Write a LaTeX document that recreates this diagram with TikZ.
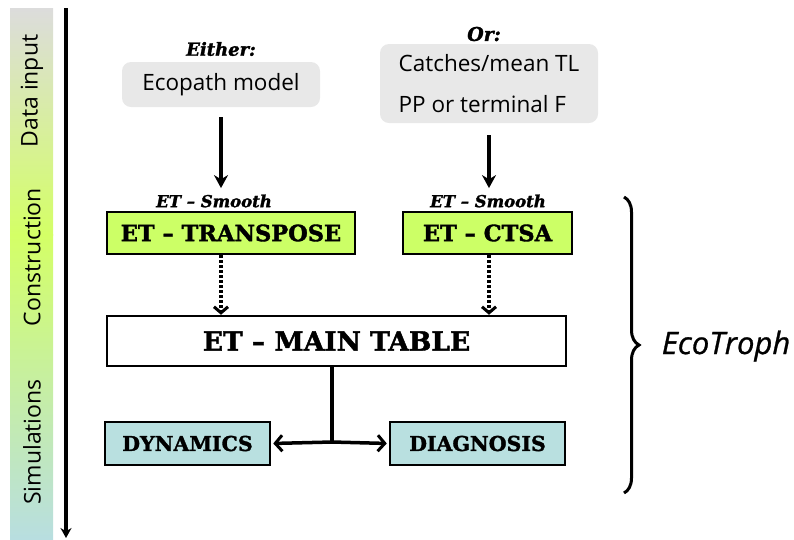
\documentclass[tikz,border=0pt]{standalone}
\usepackage{fontspec}
\setmainfont{DejaVu Serif}[BoldFeatures={FakeBold=1.6}, BoldItalicFeatures={FakeBold=1.6}]
\setsansfont{Open Sans}
\newfontfamily\brandfont{Open Sans}[ItalicFeatures={FakeBold=0.9}]
\usetikzlibrary{arrows.meta,decorations.pathreplacing}

\definecolor{inputgray}{HTML}{E8E8E8}
\definecolor{buildgreen}{HTML}{CCFF66}
\definecolor{simteal}{HTML}{B9E0E0}
\definecolor{bartop}{HTML}{DCDCDC}
\definecolor{barmid}{HTML}{D4FF66}
\definecolor{barbot}{HTML}{B8DEE0}

\tikzset{
	inputbox/.style={fill=inputgray, rounded corners=9pt, font=\sffamily\fontsize{22.5}{41}\selectfont},
	stagebox/.style={draw=black, line width=2.5pt, font=\bfseries\fontsize{22.5}{26}\selectfont, inner sep=0pt},
	smalllabel/.style={font=\bfseries\itshape\fontsize{16.5}{19}\selectfont},
	phaselabel/.style={rotate=90, font=\sffamily\fontsize{23}{26}\selectfont},
	flow/.style={line width=3.5pt, -{Stealth[length=13pt,width=14pt]}},
	dotflow/.style={line width=4pt, dash pattern=on 3pt off 2pt, -{Straight Barb[length=6pt,width=14pt,line width=3pt]}},
	split/.style={line width=3.5pt, -{Straight Barb[length=7pt,width=16pt,line width=3pt]}}
}

\begin{document}
\begin{tikzpicture}[x=1pt,y=-1pt]
	\useasboundingbox (0,0) rectangle (794,539);

	% phase bar on the left
	\shade[top color=bartop, bottom color=barmid] (10,8) rectangle (53,235);
	\shade[top color=barmid, bottom color=barbot] (10,234) rectangle (53,539);
	\node[phaselabel] (datainput)    at (32,91)  {Data input};
	\node[phaselabel] (construction) at (32,257) {Construction};
	\node[phaselabel] (simulations)  at (32,442) {Simulations};

	\coordinate (timetop) at (66,8);
	\coordinate (timebot) at (66,538);
	\draw[line width=3.5pt, -{Stealth[length=10pt,width=11pt]}] (timetop) -- (timebot);

	% data input
	\node[smalllabel, font=\bfseries\itshape\fontsize{18}{20}\selectfont] (either) at (221,49) {Either:};
	\node[inputbox, minimum width=198pt, minimum height=45pt] (ecopath) at (221,84.5) {Ecopath model};
	\node[smalllabel, font=\bfseries\itshape\fontsize{19}{20}\selectfont] (or) at (484,34) {Or:};
	\node[inputbox, minimum width=218pt, minimum height=79pt, align=left] (catches) at (489,83.5)
		{Catches/mean TL\\PP or terminal F};

	% construction
	\node[smalllabel] (smoothL) at (214,201) {ET -- Smooth};
	\node[smalllabel] (smoothR) at (488,201) {ET -- Smooth};
	\node[stagebox, fill=buildgreen, minimum width=248pt, minimum height=42pt] (transpose) at (231,233) {ET -- TRANSPOSE};
	\node[stagebox, fill=buildgreen, minimum width=169pt, minimum height=42pt] (ctsa) at (487.5,233) {ET -- CTSA};
	\node[stagebox, fill=white, minimum width=459pt, minimum height=50pt, font=\bfseries\fontsize{26.5}{30}\selectfont] (maintable) at (336.5,341) {ET -- MAIN TABLE};

	% simulations
	\node[stagebox, fill=simteal, minimum width=165pt, minimum height=43pt, font=\bfseries\fontsize{20.5}{24}\selectfont] (dynamics) at (187.5,443.5) {DYNAMICS};
	\node[stagebox, fill=simteal, minimum width=175pt, minimum height=43pt, font=\bfseries\fontsize{20.5}{24}\selectfont] (diagnosis) at (477.5,443.5) {DIAGNOSIS};
	\coordinate (fork) at (332,442);

	% connectors
	\draw[flow, shorten <=10pt, shorten >=3pt] (ecopath.south) -- (smoothL.north -| ecopath.south);
	\draw[flow, shorten <=12pt, shorten >=3pt] (catches.south) -- (smoothR.north -| catches.south);
	\draw[dotflow] (transpose.south -| ecopath.south) -- (maintable.north -| ecopath.south);
	\draw[dotflow] (ctsa.south -| catches.south) -- (maintable.north -| catches.south);
	\draw[line width=3.5pt] (maintable.south -| fork) -- (fork);
	\draw[split, shorten >=2pt] (fork) -- (dynamics.east);
	\draw[split, shorten >=2pt] (fork) -- (diagnosis.west);

	% EcoTroph brace
	\coordinate (bracetop) at (624,197);
	\coordinate (bracebot) at (624,493);
	\draw[line width=3pt, decorate, decoration={brace, amplitude=15pt}] (bracetop) -- (bracebot);
	\node[font=\brandfont\itshape\fontsize{31}{34}\selectfont] (ecotroph) at (726,346) {EcoTroph};
\end{tikzpicture}
\end{document}
